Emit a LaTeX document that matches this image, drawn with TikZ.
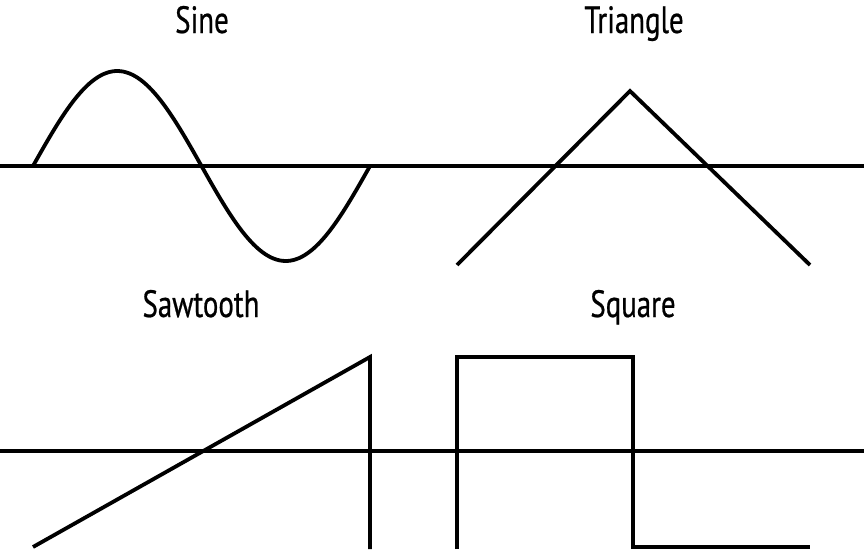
\documentclass[tikz,border=0pt]{standalone}
\usepackage{fontspec}
\newfontfamily\labelfont[FakeStretch=0.76,FakeBold=0.6]{PT Sans}
\begin{document}
\begin{tikzpicture}[x=1pt,y=-1pt,
  wave/.style={line width=3.8pt, line join=miter},
  axisline/.style={line width=3.6pt},
  lbl/.style={font=\labelfont\fontsize{38}{40}\selectfont, anchor=base, inner sep=0pt}]
\useasboundingbox (0,0) rectangle (865,549);
% labels
\node[lbl] (sine) at (202,33) {Sine};
\node[lbl] (tri) at (634,33) {Triangle};
\node[lbl] (saw) at (201,317) {Sawtooth};
\node[lbl] (sq) at (633,317) {Square};
% axes
\draw[axisline] (0,166) -- (864,166);
\draw[axisline] (0,451) -- (864,451);
% sine
\draw[wave, domain=33:370, samples=120, smooth] plot (\x, {166-95*sin(1.06825*(\x-33))});
% triangle
\draw[wave] (457,265) -- (630,91) -- (810,265);
% sawtooth
\draw[wave] (33,547) -- (370,357) -- (370,549);
% square
\draw[wave] (457,549) -- (457,357) -- (633,357) -- (633,547) -- (810,547);
\end{tikzpicture}
\end{document}
